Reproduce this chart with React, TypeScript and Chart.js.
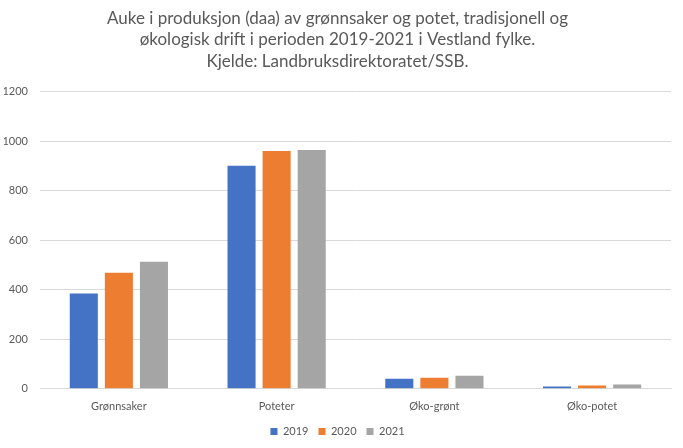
import { useEffect, useRef } from "react";
import Chart from "chart.js/auto";

const categories = ["Grønnsaker", "Poteter", "Øko-grønt", "Øko-potet"];
const seriesLabels = ["2019", "2020", "2021"];
const values2019 = [385, 901, 41, 9];
const values2020 = [469, 961, 45, 13];
const values2021 = [513, 965, 53, 17];
const colors = ["#4472C4", "#ED7D31", "#A5A5A5"];
const titleLines = [
    "Auke i produksjon (daa) av grønnsaker og potet, tradisjonell og",
    "økologisk drift i perioden 2019-2021 i Vestland fylke.",
    "Kjelde: Landbruksdirektoratet/SSB.",
];

const App: React.FC = () => {
    const chartRef = useRef<HTMLCanvasElement | null>(null);

    useEffect(() => {
        document.body.style.margin = "0";
        if (!chartRef.current) return;
        const ctx = chartRef.current.getContext("2d");
        if (!ctx) return;

        const font = "Lato, 'Open Sans', sans-serif";
        const allValues = [values2019, values2020, values2021];

        const myChart = new Chart(ctx, {
            type: "bar",
            data: {
                labels: categories,
                datasets: seriesLabels.map((label, i) => ({
                    label,
                    data: allValues[i],
                    backgroundColor: colors[i],
                    barPercentage: 0.8,
                    categoryPercentage: 0.667,
                })),
            },
            options: {
                animation: false,
                responsive: true,
                maintainAspectRatio: false,
                layout: { padding: { left: 4, right: 12, top: 8, bottom: 1 } },
                plugins: {
                    title: {
                        display: true,
                        text: titleLines,
                        color: "#595959",
                        font: { family: font, size: 17, weight: "normal", lineHeight: 1.25 },
                        padding: { top: 0, bottom: 20 },
                    },
                    legend: {
                        position: "bottom",
                        labels: {
                            boxWidth: 7,
                            boxHeight: 7,
                            color: "#595959",
                            font: { family: font, size: 11 },
                            padding: 10,
                        },
                    },
                    tooltip: { enabled: false },
                },
                scales: {
                    x: {
                        grid: { display: false },
                        border: { color: "#d9d9d9" },
                        ticks: { color: "#595959", font: { family: font, size: 11 }, padding: 3 },
                    },
                    y: {
                        min: 0,
                        max: 1200,
                        afterFit: (axis) => {
                            axis.width = 36;
                        },
                        ticks: {
                            stepSize: 200,
                            color: "#595959",
                            font: { family: font, size: 11 },
                            padding: 12,
                            callback: (v) => String(v),
                        },
                        grid: { color: "#d9d9d9", drawTicks: false },
                        border: { display: false },
                    },
                },
            },
        });
        return () => {
            myChart.destroy();
        };
    }, []);

    return (
        <div style={{ width: 683, height: 448, position: "relative" }}>
            <canvas ref={chartRef}></canvas>
        </div>
    );
};

export default App;
